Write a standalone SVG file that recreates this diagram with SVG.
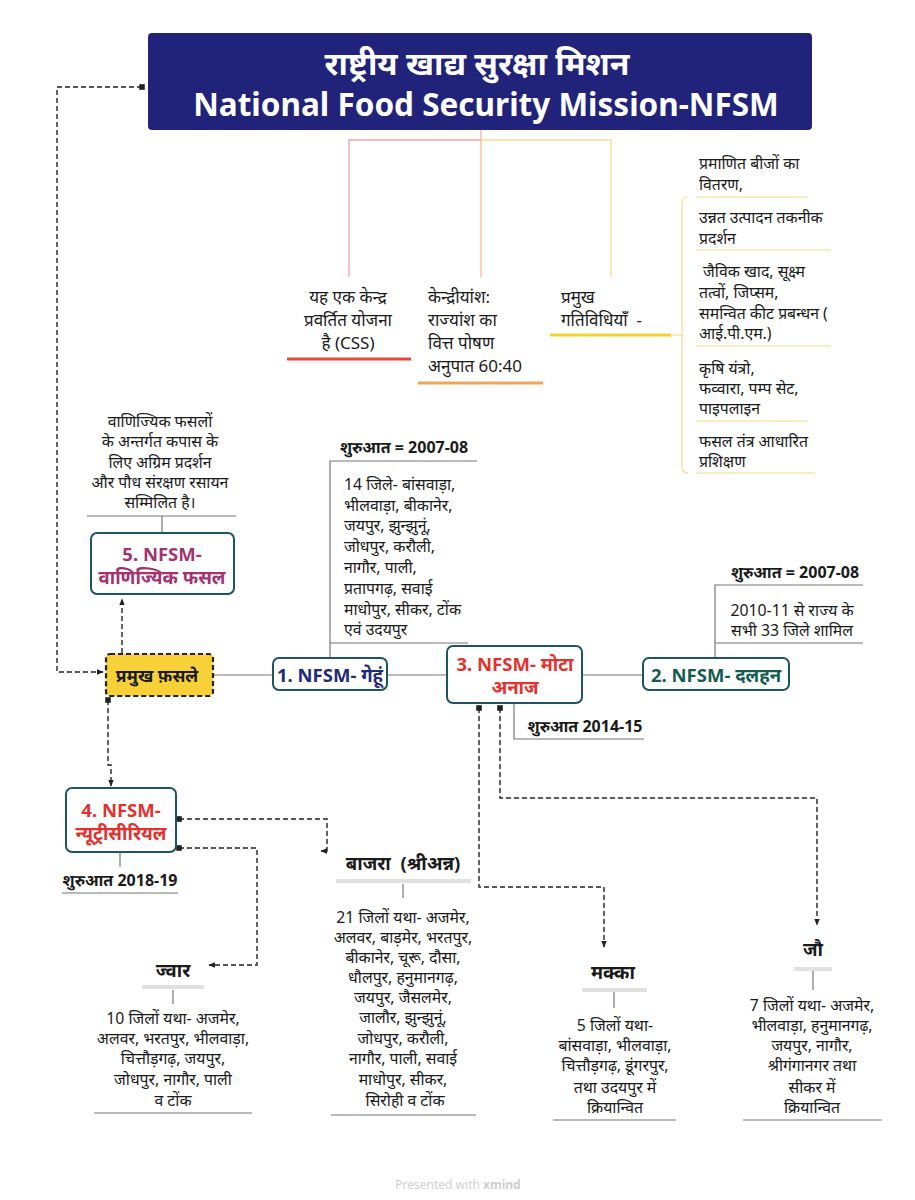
<svg xmlns="http://www.w3.org/2000/svg" width="915" height="1200" viewBox="0 0 915 1200">
<defs>
<marker id="arr" viewBox="0 0 10 10" refX="9" refY="5" markerWidth="5" markerHeight="5" orient="auto"><path d="M0,1 L10,5 L0,9 z" fill="#222"/></marker>
<marker id="sq" viewBox="0 0 10 10" refX="5" refY="5" markerWidth="4" markerHeight="4" orient="auto"><rect x="0" y="0" width="10" height="10" fill="#222"/></marker>
</defs>
<style>
text{font-family:"Noto Sans","Open Sans",sans-serif;fill:#1a1a1a;dominant-baseline:central;white-space:pre}
.t{font-size:15.8px}
.lb{font-size:16px;font-weight:bold}
.c{text-anchor:middle}
.h{font-size:18.5px;font-weight:bold}
.m{font-size:17px}
.node{fill:#fff;stroke:#1e5560;stroke-width:2}
.ln{fill:none;stroke:#777;stroke-width:1.2}
.gl{fill:none;stroke:#e0e0e0;stroke-width:4}
.dash{fill:none;stroke:#222;stroke-width:1.4;stroke-dasharray:5 3}
.yl{fill:none;stroke:#f3dc8a;stroke-width:1.2}
</style>
<rect width="915" height="1200" fill="#fff"/>

<g id="connectors">
<path d="M349,277 V140 H481" fill="none" stroke="#f1a5a0" stroke-width="1.3"/>
<path d="M481,130 V277" fill="none" stroke="#f4bc86" stroke-width="1.3"/>
<path d="M481,140 H611 V277" fill="none" stroke="#f5de92" stroke-width="1.3"/>
<path d="M671,335 H682" class="yl"/>
<path d="M688,197 Q682,197 682,203 V467 Q682,473 688,473" class="yl"/>
<path d="M213,675 H273" class="ln"/>
<path d="M387,675 H447" class="ln"/>
<path d="M582,675 H643" class="ln"/>
<path d="M330,658 V461 H477" class="ln"/>
<path d="M330,643 H468" class="ln"/>
<path d="M715,658 V585 H863" class="ln"/>
<path d="M715,643 H863" class="ln"/>
<path d="M514,703 V739 H644" class="ln"/>
<path d="M162,533 V516" class="ln"/>
<path d="M87,516 H236" class="ln"/>
<path d="M120,852 V867" class="ln"/>
<path d="M62,893 H178" class="ln"/>
<path d="M173,990 V1004" class="ln"/>
<path d="M94,1113 H252" class="ln"/>
<path d="M403,884 V898" class="ln"/>
<path d="M331,1115 H476" class="ln"/>
<path d="M614,992 V1008" class="ln"/>
<path d="M553,1120 H676" class="ln"/>
<path d="M813,971 V990" class="ln"/>
<path d="M743,1120 H882" class="ln"/>
<path d="M142,87 H57 V672 H103" class="dash" marker-start="url(#sq)" marker-end="url(#arr)"/>
<path d="M122,653 V599" class="dash" marker-end="url(#arr)"/>
<path d="M108,700 V765 H111 V786" class="dash" marker-start="url(#sq)" marker-end="url(#arr)"/>
<path d="M179,819 H327 V851 H321" class="dash" marker-start="url(#sq)" marker-end="url(#arr)"/>
<path d="M179,848 H257 V965 H209" class="dash" marker-start="url(#sq)" marker-end="url(#arr)"/>
<path d="M479,708 V887 H604 V947" class="dash" marker-start="url(#sq)" marker-end="url(#arr)"/>
<path d="M500,708 V798 H817 V925" class="dash" marker-start="url(#sq)" marker-end="url(#arr)"/>
</g>

<g id="title">
<rect x="148" y="33" width="664" height="97" rx="4" fill="#21237a"/>
<text x="477" y="62" class="c" style="font-size:32px;font-weight:bold;fill:#fff">राष्ट्रीय खाद्य सुरक्षा मिशन</text>
<text x="486" y="103" class="c" style="font-size:31.5px;font-weight:bold;fill:#fff">National Food Security Mission-NFSM</text>
</g>

<g id="css">
<text x="348" y="296" class="c m">यह एक केन्द्र</text>
<text x="348" y="319" class="c m">प्रवर्तित योजना</text>
<text x="348" y="342" class="c m">है (CSS)</text>
<path d="M287,359 H411" stroke="#e8473e" stroke-width="3"/>
</g>

<g id="ratio">
<text x="428" y="296" class="m">केन्द्रीयांश:</text>
<text x="428" y="319" class="m">राज्यांश का</text>
<text x="428" y="342" class="m">वित्त पोषण</text>
<text x="428" y="365" class="m">अनुपात 60:40</text>
<path d="M418,383 H543" stroke="#f2a55a" stroke-width="3"/>
</g>

<g id="activities">
<text x="561" y="296" class="m">प्रमुख</text>
<text x="561" y="319" class="m">गतिविधियाँ  -</text>
<path d="M550,335 H671" stroke="#f3d12b" stroke-width="3"/>
</g>

<g id="act-list">
<text x="699" y="163" class="t">प्रमाणित बीजों का</text>
<text x="699" y="184" class="t">वितरण,</text>
<path d="M696,197 H808" class="yl"/>
<text x="699" y="217" class="t">उन्नत उत्पादन तकनीक</text>
<text x="699" y="238" class="t">प्रदर्शन</text>
<path d="M696,250 H831" class="yl"/>
<text x="699" y="271" class="t"> जैविक खाद, सूक्ष्म</text>
<text x="699" y="292" class="t">तत्वों, जिप्सम,</text>
<text x="699" y="313" class="t">समन्वित कीट प्रबन्धन (</text>
<text x="699" y="333" class="t">आई.पी.एम.)</text>
<path d="M696,346 H831" class="yl"/>
<text x="699" y="368" class="t">कृषि यंत्रो,</text>
<text x="699" y="388" class="t">फव्वारा, पम्प सेट,</text>
<text x="699" y="408" class="t">पाइपलाइन</text>
<path d="M696,421 H808" class="yl"/>
<text x="699" y="441" class="t">फसल तंत्र आधारित</text>
<text x="699" y="461" class="t">प्रशिक्षण</text>
<path d="M696,473 H815" class="yl"/>
</g>

<g id="commercial-note">
<text x="160" y="421" class="t c">वाणिज्यिक फसलों</text>
<text x="160" y="441" class="t c">के अन्तर्गत कपास के</text>
<text x="160" y="462" class="t c">लिए अग्रिम प्रदर्शन</text>
<text x="160" y="482" class="t c">और पौध संरक्षण रसायन</text>
<text x="160" y="502" class="t c">सम्मिलित है।</text>
</g>

<g id="node5">
<rect x="91" y="533" width="143" height="61" rx="6" class="node"/>
<text x="162" y="553" class="h c" style="fill:#a3336f">5. NFSM-</text>
<text x="162" y="576" class="h c" style="fill:#a3336f">वाणिज्यिक फसल</text>
</g>

<g id="main-crops">
<rect x="106" y="654" width="107" height="42" rx="4" fill="#f7d137" stroke="#222" stroke-width="2.2" stroke-dasharray="5 3"/>
<text x="157" y="675" class="h c" style="font-size:17.5px">प्रमुख फ़सले</text>
</g>

<g id="node1">
<rect x="273" y="658" width="114" height="32" rx="6" class="node"/>
<text x="330" y="674" class="h c" style="fill:#1f2a78">1. NFSM- गेहूं</text>
</g>
<g id="wheat-info">
<text x="404" y="447" class="lb c">शुरुआत = 2007-08</text>
<text x="344" y="484" class="t">14 जिले- बांसवाड़ा,</text>
<text x="344" y="505" class="t">भीलवाड़ा, बीकानेर,</text>
<text x="344" y="525" class="t">जयपुर, झुन्झुनूं,</text>
<text x="344" y="546" class="t">जोधपुर, करौली,</text>
<text x="344" y="567" class="t">नागौर, पाली,</text>
<text x="344" y="588" class="t">प्रतापगढ़, सवाई</text>
<text x="344" y="609" class="t">माधोपुर, सीकर, टोंक</text>
<text x="344" y="629" class="t">एवं उदयपुर</text>
</g>

<g id="node3">
<rect x="447" y="646" width="135" height="57" rx="6" class="node"/>
<text x="515" y="663" class="h c" style="fill:#e3312f">3. NFSM- मोटा</text>
<text x="515" y="686" class="h c" style="fill:#e3312f">अनाज</text>
</g>
<text x="585" y="726" class="lb c">शुरुआत 2014-15</text>

<g id="node2">
<rect x="643" y="658" width="146" height="32" rx="6" class="node"/>
<text x="716" y="674" class="h c" style="fill:#125c52">2. NFSM- दलहन</text>
</g>
<g id="pulse-info">
<text x="795" y="572" class="lb c">शुरुआत = 2007-08</text>
<text x="792" y="610" class="t c">2010-11 से राज्य के</text>
<text x="792" y="630" class="t c">सभी 33 जिले शामिल</text>
</g>

<g id="node4">
<rect x="66" y="788" width="110" height="64" rx="6" class="node"/>
<text x="121" y="809" class="h c" style="fill:#e3312f">4. NFSM-</text>
<text x="121" y="832" class="h c" style="fill:#e3312f">न्यूट्रीसीरियल</text>
</g>
<text x="120" y="880" class="lb c">शुरुआत 2018-19</text>

<g id="jwar">
<text x="173" y="969" class="h c">ज्वार</text>
<path d="M142,987 H204" class="gl"/>
<text x="173" y="1018" class="t c">10 जिलों यथा- अजमेर,</text>
<text x="173" y="1038" class="t c">अलवर, भरतपुर, भीलवाड़ा,</text>
<text x="173" y="1058" class="t c">चित्तौड़गढ़, जयपुर,</text>
<text x="173" y="1079" class="t c">जोधपुर, नागौर, पाली</text>
<text x="173" y="1100" class="t c">व टोंक</text>
</g>

<g id="bajra">
<text x="403" y="862" class="h c">बाजरा  (श्रीअन्न)</text>
<path d="M336,881 H471" class="gl"/>
<text x="403" y="917" class="t c">21 जिलों यथा- अजमेर,</text>
<text x="403" y="937" class="t c">अलवर, बाड़मेर, भरतपुर,</text>
<text x="403" y="957" class="t c">बीकानेर, चूरू, दौसा,</text>
<text x="403" y="977" class="t c">धौलपुर, हनुमानगढ़,</text>
<text x="403" y="997" class="t c">जयपुर, जैसलमेर,</text>
<text x="403" y="1017" class="t c">जालौर, झुन्झुनूं,</text>
<text x="403" y="1038" class="t c">जोधपुर, करौली,</text>
<text x="403" y="1058" class="t c">नागौर, पाली, सवाई</text>
<text x="403" y="1079" class="t c">माधोपुर, सीकर,</text>
<text x="403" y="1100" class="t c"> सिरोही व टोंक</text>
</g>

<g id="makka">
<text x="613" y="971" class="h c">मक्का</text>
<path d="M582,990 H647" class="gl"/>
<text x="615" y="1025" class="t c">5 जिलों यथा-</text>
<text x="615" y="1045" class="t c">बांसवाड़ा, भीलवाड़ा,</text>
<text x="615" y="1065" class="t c">चित्तौड़गढ़, डूंगरपुर,</text>
<text x="615" y="1087" class="t c">तथा उदयपुर में</text>
<text x="615" y="1107" class="t c">क्रियान्वित</text>
</g>

<g id="jau">
<text x="813" y="948" class="h c">जौ</text>
<path d="M794,969 H832" class="gl"/>
<text x="812" y="1005" class="t c">7 जिलों यथा- अजमेर,</text>
<text x="812" y="1025" class="t c">भीलवाड़ा, हनुमानगढ़,</text>
<text x="812" y="1045" class="t c">जयपुर, नागौर,</text>
<text x="812" y="1065" class="t c">श्रीगंगानगर तथा</text>
<text x="812" y="1087" class="t c">सीकर में</text>
<text x="812" y="1107" class="t c">क्रियान्वित</text>
</g>

<text x="458" y="1184" class="c" style="font-size:12px;fill:#d0d0d0">Presented with <tspan style="font-weight:bold">xmind</tspan></text>
</svg>
